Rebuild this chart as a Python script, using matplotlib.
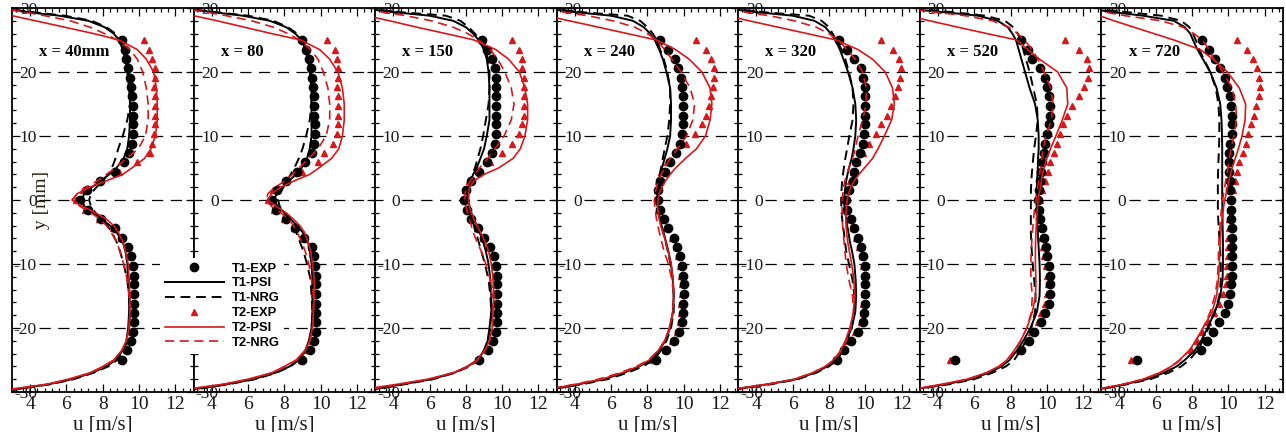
import matplotlib
matplotlib.use('Agg')
import matplotlib.pyplot as plt
from matplotlib.ticker import MultipleLocator
from matplotlib.transforms import blended_transform_factory

plt.rcParams['font.family'] = ['Liberation Serif', 'DejaVu Serif']
plt.rcParams['axes.unicode_minus'] = False

RED = '#d7191c'

# stations (one panel each)
STATIONS = ['x = 40mm', 'x = 80', 'x = 150', 'x = 240', 'x = 320', 'x = 520', 'x = 720']

# measurement positions [mm]
Y_EXP = [25.0, 23.5, 22.1, 20.6, 19.1, 17.6, 16.2, 14.7, 13.2, 11.8, 10.3, 8.8, 7.4, 5.9, 4.4, 2.9, 1.5,
         0.0, -1.5, -2.9, -4.4, -5.9, -7.4, -8.8, -10.3, -11.8, -13.2, -14.7, -16.2, -17.6, -19.1, -20.6,
         -22.1, -23.5, -25.0]

# simulation output positions [mm]
Y_SIM = [29.7, 29.3, 28.8, 28.0, 27.0, 26.0, 25.0, 23.5, 22.0, 20.0, 17.5, 15.0, 12.5, 10.0, 8.0, 6.5,
         5.0, 4.0, 3.0, 2.0, 1.0, 0.0, -1.0, -2.0, -3.0, -4.0, -5.0, -6.5, -8.0, -10.0, -12.5, -15.0,
         -17.5, -20.0, -22.0, -23.5, -25.0, -26.0, -27.0, -28.0, -28.8, -29.3, -29.7]

# u [m/s], case T1, measured
T1_EXP = [
    [9.05, 9.2, 9.3, 9.4, 9.5, 9.55, 9.6, 9.65, 9.65, 9.65, 9.65, 9.6, 9.45, 9.15, 8.65, 7.85, 7.15,
     6.75, 7.2, 7.9, 8.65, 9.05, 9.4, 9.55, 9.65, 9.7, 9.7, 9.7, 9.7, 9.7, 9.7, 9.65, 9.55, 9.35, 9.05],
    [9.0, 9.2, 9.35, 9.45, 9.55, 9.6, 9.65, 9.65, 9.65, 9.7, 9.7, 9.65, 9.5, 9.15, 8.7, 8.1, 7.6,
     7.3, 7.55, 8.1, 8.6, 9.1, 9.5, 9.65, 9.7, 9.75, 9.75, 9.75, 9.75, 9.75, 9.75, 9.75, 9.65, 9.4, 9.0],
    [8.9, 9.15, 9.45, 9.6, 9.65, 9.65, 9.65, 9.65, 9.65, 9.65, 9.65, 9.6, 9.45, 9.15, 8.75, 8.3, 8.0,
     7.9, 8.05, 8.3, 8.65, 9.0, 9.35, 9.55, 9.65, 9.7, 9.7, 9.7, 9.7, 9.7, 9.7, 9.65, 9.5, 9.2, 8.75],
    [8.7, 9.15, 9.5, 9.7, 9.85, 9.9, 9.95, 9.95, 9.95, 9.95, 9.9, 9.8, 9.6, 9.25, 8.95, 8.7, 8.6,
     8.6, 8.7, 8.9, 9.15, 9.45, 9.65, 9.8, 9.9, 9.95, 10.0, 10.0, 9.95, 9.95, 9.9, 9.75, 9.45, 9.05, 8.45],
    [8.55, 9.0, 9.4, 9.75, 9.9, 10.0, 10.0, 10.0, 10.0, 10.0, 9.95, 9.85, 9.7, 9.5, 9.4, 9.3, 9.1,
     8.95, 9.0, 9.2, 9.4, 9.6, 9.75, 9.9, 10.0, 10.0, 10.0, 10.0, 10.0, 9.95, 9.9, 9.6, 9.2, 8.85, 8.45],
    [8.55, 8.95, 9.2, 9.6, 9.9, 10.0, 10.1, 10.15, 10.15, 10.1, 10.0, 9.9, 9.85, 9.75, 9.7, 9.6, 9.55,
     9.5, 9.55, 9.65, 9.75, 9.85, 9.95, 10.0, 10.1, 10.15, 10.2, 10.2, 10.1, 9.9, 9.7, 9.3, 9.0, 8.6, 4.95],
    [8.55, 8.95, 9.25, 9.55, 9.8, 9.95, 10.1, 10.15, 10.2, 10.2, 10.2, 10.1, 10.05, 10.05, 10.05, 10.1, 10.1,
     10.15, 10.15, 10.15, 10.2, 10.2, 10.2, 10.2, 10.2, 10.2, 10.15, 10.1, 10.0, 9.8, 9.5, 9.15, 8.8, 8.5, 4.95],
]

# u [m/s], case T2, measured
T2_EXP = [
    [10.25, 10.55, 10.7, 10.85, 10.85, 10.8, 10.85, 10.85, 10.85, 10.85, 10.8, 10.7, 10.6, 9.9, 8.9, 7.8, 6.9,
     6.5, 7.0, 7.8, 8.55, 9.0, 9.35, 9.55, 9.6, 9.6, 9.6, 9.6, 9.6, 9.6, 9.6, 9.6, 9.5, 9.3, 9.0],
    [10.35, 10.8, 10.9, 10.95, 10.95, 10.9, 10.95, 10.95, 10.95, 10.95, 10.9, 10.7, 10.2, 9.85, 8.95, 8.1, 7.4,
     7.1, 7.45, 8.0, 8.55, 9.05, 9.45, 9.6, 9.65, 9.65, 9.65, 9.65, 9.65, 9.65, 9.65, 9.65, 9.55, 9.3, 8.9],
    [10.55, 10.95, 11.1, 11.1, 11.2, 11.2, 11.2, 11.2, 11.2, 11.1, 10.9, 10.55, 10.0, 9.35, 8.7, 8.15, 7.95,
     7.95, 8.05, 8.3, 8.6, 8.95, 9.3, 9.5, 9.6, 9.6, 9.6, 9.6, 9.6, 9.6, 9.6, 9.6, 9.45, 9.15, 8.7],
    [10.7, 11.25, 11.5, 11.65, 11.65, 11.6, 11.5, 11.4, 11.25, 11.0, 10.6, 10.15, 9.55, 9.1, 8.75, 8.6, 8.5,
     8.5, 8.6, 8.8, 9.05, 9.35, 9.55, 9.7, 9.8, 9.85, 9.9, 9.9, 9.85, 9.85, 9.8, 9.65, 9.35, 8.95, 8.3],
    [10.85, 11.5, 11.85, 11.95, 11.9, 11.8, 11.65, 11.4, 11.2, 10.85, 10.6, 10.2, 9.85, 9.55, 9.3, 9.15, 9.0,
     8.9, 8.95, 9.1, 9.3, 9.5, 9.65, 9.8, 9.9, 9.95, 9.95, 9.95, 9.9, 9.85, 9.75, 9.45, 9.05, 8.7, 8.3],
    [11.0, 11.75, 12.2, 12.35, 12.25, 12.05, 11.75, 11.4, 11.1, 10.9, 10.75, 10.55, 10.4, 10.2, 10.05, 9.9, 9.75,
     9.65, 9.6, 9.6, 9.65, 9.7, 9.8, 9.85, 9.95, 10.0, 10.05, 10.0, 9.9, 9.7, 9.5, 9.15, 8.85, 8.45, 4.65],
    [10.5, 11.0, 11.35, 11.55, 11.7, 11.75, 11.7, 11.5, 11.4, 11.25, 11.1, 10.95, 10.8, 10.6, 10.5, 10.35, 10.25,
     10.15, 10.1, 10.05, 10.05, 10.0, 10.0, 10.0, 9.95, 9.9, 9.85, 9.7, 9.5, 9.2, 8.9, 8.55, 8.25, 7.95, 4.65],
]

# u [m/s], simulations
T1_PSI = [
    [3.0, 4.0, 5.6, 7.2, 8.1, 8.6, 8.9, 9.1, 9.25, 9.35, 9.45, 9.5, 9.5, 9.45, 9.35, 9.15, 8.75, 8.35, 7.9, 7.4, 7.0,
     6.8, 7.0, 7.45, 7.95, 8.4, 8.75, 9.1, 9.25, 9.35, 9.4, 9.45, 9.45, 9.4, 9.3, 9.1, 8.7, 8.2, 7.4, 6.3, 5.0, 3.8, 3.0],
    [3.0, 4.2, 5.7, 7.2, 8.1, 8.6, 8.95, 9.15, 9.3, 9.4, 9.5, 9.5, 9.5, 9.5, 9.4, 9.25, 8.95, 8.65, 8.25, 7.9, 7.6,
     7.4, 7.65, 8.0, 8.35, 8.7, 9.0, 9.3, 9.4, 9.5, 9.55, 9.55, 9.55, 9.5, 9.35, 9.15, 8.75, 8.3, 7.5, 6.3, 4.8, 3.6, 2.8],
    [3.0, 4.2, 6.0, 7.3, 8.0, 8.4, 8.7, 9.0, 9.15, 9.25, 9.3, 9.3, 9.3, 9.15, 9.0, 8.8, 8.6, 8.4, 8.28, 8.18, 8.13,
     8.13, 8.2, 8.3, 8.45, 8.6, 8.75, 8.95, 9.1, 9.25, 9.35, 9.4, 9.4, 9.3, 9.2, 9.0, 8.65, 8.1, 7.35, 6.1, 4.5, 3.5, 2.7],
    [3.0, 4.2, 6.0, 7.2, 7.8, 8.15, 8.4, 8.65, 8.85, 9.05, 9.25, 9.3, 9.3, 9.25, 9.1, 8.95, 8.8, 8.7, 8.62, 8.57, 8.55,
     8.55, 8.57, 8.62, 8.7, 8.78, 8.88, 9.02, 9.15, 9.3, 9.4, 9.45, 9.4, 9.25, 8.98, 8.65, 8.2, 7.55, 6.7, 5.6, 4.2, 3.2, 2.4],
    [3.0, 4.2, 6.0, 7.2, 7.8, 8.1, 8.35, 8.6, 8.8, 9.05, 9.3, 9.45, 9.5, 9.45, 9.35, 9.25, 9.1, 9.02, 8.95, 8.9, 8.86,
     8.84, 8.85, 8.9, 8.95, 9.0, 9.07, 9.15, 9.27, 9.4, 9.47, 9.5, 9.45, 9.25, 8.95, 8.7, 8.3, 7.9, 7.2, 6.2, 4.6, 3.4, 2.5],
    [3.0, 4.5, 6.2, 7.3, 7.85, 8.1, 8.3, 8.45, 8.6, 8.8, 9.05, 9.35, 9.5, 9.55, 9.55, 9.52, 9.5, 9.48, 9.46, 9.45, 9.44,
     9.43, 9.44, 9.45, 9.46, 9.48, 9.5, 9.53, 9.56, 9.6, 9.62, 9.6, 9.45, 9.1, 8.7, 8.35, 7.95, 7.5, 6.8, 5.8, 4.4, 3.3, 2.5],
    [2.8, 3.8, 5.3, 7.0, 7.6, 7.9, 8.05, 8.3, 8.6, 9.0, 9.35, 9.55, 9.62, 9.65, 9.66, 9.66, 9.66, 9.66, 9.66, 9.66, 9.66,
     9.66, 9.67, 9.67, 9.68, 9.68, 9.69, 9.7, 9.7, 9.7, 9.68, 9.55, 9.25, 8.85, 8.5, 8.15, 7.6, 7.15, 6.45, 5.5, 4.3, 3.4, 2.6],
]

T1_NRG = [
    [3.2, 4.3, 5.9, 7.4, 8.2, 8.7, 8.95, 9.2, 9.35, 9.45, 9.5, 9.5, 9.35, 9.1, 8.85, 8.7, 8.5, 8.3, 8.0, 7.65, 7.35,
     7.25, 7.35, 7.6, 7.95, 8.25, 8.5, 8.75, 8.95, 9.15, 9.35, 9.45, 9.5, 9.45, 9.35, 9.15, 8.8, 8.3, 7.5, 6.4, 5.1, 3.9, 3.0],
    [3.2, 4.4, 6.0, 7.4, 8.2, 8.7, 9.0, 9.25, 9.4, 9.45, 9.5, 9.5, 9.4, 9.2, 9.0, 8.8, 8.55, 8.35, 8.15, 7.95, 7.75,
     7.65, 7.75, 7.95, 8.2, 8.45, 8.65, 8.85, 9.05, 9.25, 9.45, 9.5, 9.55, 9.5, 9.4, 9.2, 8.8, 8.35, 7.55, 6.4, 4.9, 3.7, 2.9],
    [3.3, 4.6, 6.9, 7.7, 8.15, 8.5, 8.75, 9.1, 9.2, 9.3, 9.3, 9.25, 9.1, 8.95, 8.8, 8.65, 8.5, 8.35, 8.25, 8.15, 8.1,
     8.1, 8.15, 8.25, 8.35, 8.45, 8.55, 8.7, 8.85, 9.05, 9.25, 9.35, 9.4, 9.35, 9.2, 9.0, 8.7, 8.2, 7.4, 6.2, 4.6, 3.6, 2.8],
    [3.3, 4.6, 6.9, 7.6, 8.0, 8.3, 8.5, 8.7, 8.9, 9.1, 9.25, 9.25, 9.2, 9.1, 8.95, 8.85, 8.75, 8.68, 8.6, 8.55, 8.52,
     8.52, 8.55, 8.6, 8.68, 8.76, 8.86, 9.0, 9.12, 9.27, 9.4, 9.45, 9.45, 9.3, 9.05, 8.75, 8.35, 7.75, 6.9, 5.8, 4.4, 3.3, 2.5],
    [3.3, 4.6, 6.9, 7.6, 8.0, 8.2, 8.4, 8.7, 8.9, 9.1, 9.3, 9.35, 9.3, 9.12, 9.0, 8.9, 8.82, 8.77, 8.73, 8.7, 8.68,
     8.67, 8.68, 8.7, 8.73, 8.77, 8.82, 8.88, 8.95, 9.1, 9.3, 9.4, 9.4, 9.25, 9.0, 8.78, 8.45, 8.0, 7.3, 6.3, 4.8, 3.6, 2.6],
    [3.5, 5.0, 6.6, 7.7, 8.15, 8.4, 8.55, 8.7, 8.85, 9.05, 9.25, 9.45, 9.5, 9.4, 9.3, 9.25, 9.2, 9.17, 9.15, 9.13, 9.12,
     9.12, 9.12, 9.12, 9.12, 9.12, 9.12, 9.14, 9.17, 9.22, 9.3, 9.38, 9.35, 9.15, 8.85, 8.55, 8.2, 7.75, 7.0, 6.0, 4.6, 3.4, 2.6],
    [3.3, 4.6, 6.3, 7.4, 7.85, 8.05, 8.2, 8.4, 8.65, 9.0, 9.3, 9.45, 9.5, 9.5, 9.48, 9.46, 9.44, 9.43, 9.42, 9.42, 9.42,
     9.42, 9.42, 9.43, 9.44, 9.46, 9.48, 9.52, 9.55, 9.58, 9.58, 9.5, 9.25, 8.9, 8.6, 8.3, 7.85, 7.4, 6.7, 5.7, 4.4, 3.4, 2.6],
]

T2_PSI = [
    [1.5, 2.2, 3.0, 4.3, 5.9, 7.5, 8.9, 9.9, 10.4, 10.8, 10.95, 11.0, 11.0, 10.9, 10.65, 10.3, 9.6, 9.1, 8.2, 7.3, 6.6,
     6.3, 6.9, 7.6, 8.2, 8.6, 8.85, 9.1, 9.25, 9.4, 9.45, 9.5, 9.5, 9.45, 9.3, 9.05, 8.6, 8.0, 7.3, 6.1, 4.9, 3.6, 2.5],
    [1.5, 2.2, 3.0, 4.3, 5.8, 7.3, 8.9, 9.95, 10.5, 10.95, 11.2, 11.3, 11.3, 11.2, 11.0, 10.6, 9.9, 9.4, 8.55, 7.8, 7.3,
     7.1, 7.55, 8.1, 8.5, 8.85, 9.1, 9.3, 9.45, 9.55, 9.65, 9.65, 9.6, 9.55, 9.4, 9.15, 8.65, 8.0, 7.3, 6.0, 4.6, 3.3, 2.3],
    [1.1, 1.75, 2.5, 3.8, 5.3, 6.9, 8.45, 9.65, 10.35, 10.95, 11.25, 11.4, 11.4, 11.25, 11.0, 10.6, 9.8, 9.0, 8.45, 8.2, 8.15,
     8.15, 8.2, 8.3, 8.45, 8.6, 8.8, 9.05, 9.25, 9.4, 9.5, 9.55, 9.5, 9.45, 9.3, 9.05, 8.6, 8.1, 7.3, 5.9, 4.2, 3.0, 2.2],
    [1.0, 1.7, 2.4, 3.7, 5.3, 6.9, 8.5, 9.55, 10.3, 11.0, 11.45, 11.55, 11.45, 11.2, 10.7, 10.1, 9.55, 9.25, 9.0, 8.8, 8.65,
     8.58, 8.56, 8.6, 8.65, 8.73, 8.85, 9.0, 9.15, 9.3, 9.42, 9.45, 9.4, 9.2, 8.95, 8.6, 8.1, 7.5, 6.6, 5.5, 4.1, 3.1, 2.3],
    [0.9, 1.6, 2.4, 3.6, 5.2, 6.8, 8.4, 9.6, 10.4, 11.1, 11.5, 11.6, 11.45, 11.05, 10.7, 10.4, 9.95, 9.65, 9.4, 9.2, 9.08,
     9.0, 8.96, 8.94, 8.93, 8.94, 8.97, 9.03, 9.12, 9.25, 9.37, 9.42, 9.35, 9.15, 8.9, 8.65, 8.25, 7.8, 7.1, 6.1, 4.6, 3.4, 2.5],
    [1.0, 1.6, 2.35, 3.55, 5.1, 6.7, 8.35, 8.95, 9.6, 10.6, 11.1, 11.15, 10.85, 10.5, 10.2, 10.0, 9.85, 9.75, 9.7, 9.65, 9.58,
     9.52, 9.48, 9.46, 9.44, 9.42, 9.4, 9.38, 9.37, 9.37, 9.4, 9.38, 9.2, 8.9, 8.55, 8.2, 7.8, 7.35, 6.65, 5.6, 4.2, 3.2, 2.4],
    [1.9, 2.4, 2.9, 3.7, 4.8, 5.9, 7.0, 8.45, 9.15, 9.95, 10.6, 10.95, 10.92, 10.75, 10.55, 10.38, 10.2, 10.12, 10.03, 9.95, 9.88,
     9.8, 9.74, 9.7, 9.65, 9.62, 9.58, 9.55, 9.52, 9.5, 9.45, 9.35, 9.1, 8.6, 8.2, 7.85, 7.3, 6.85, 6.2, 5.3, 4.2, 3.3, 2.5],
]

T2_NRG = [
    [3.0, 3.8, 4.8, 6.2, 7.3, 8.1, 8.8, 9.5, 9.9, 10.2, 10.4, 10.5, 10.5, 10.35, 9.95, 9.3, 8.7, 8.2, 7.7, 7.1, 6.6,
     6.35, 6.75, 7.35, 7.85, 8.2, 8.45, 8.75, 8.95, 9.15, 9.35, 9.45, 9.5, 9.45, 9.3, 9.05, 8.65, 8.1, 7.35, 6.2, 5.0, 3.8, 2.8],
    [3.0, 3.8, 4.8, 6.2, 7.4, 8.2, 8.85, 9.45, 9.85, 10.15, 10.4, 10.5, 10.5, 10.3, 9.85, 9.35, 8.8, 8.45, 8.05, 7.5, 7.1,
     7.0, 7.3, 7.8, 8.25, 8.5, 8.7, 8.95, 9.15, 9.35, 9.5, 9.6, 9.6, 9.55, 9.4, 9.15, 8.7, 8.1, 7.35, 6.1, 4.7, 3.4, 2.5],
    [2.5, 3.5, 4.7, 6.1, 7.3, 8.1, 8.7, 9.35, 9.75, 10.15, 10.5, 10.65, 10.5, 10.1, 9.6, 9.2, 8.75, 8.5, 8.25, 8.05, 7.95,
     7.95, 8.0, 8.1, 8.2, 8.3, 8.4, 8.6, 8.85, 9.1, 9.35, 9.45, 9.5, 9.45, 9.3, 9.05, 8.65, 8.15, 7.3, 6.0, 4.4, 3.3, 2.4],
    [2.5, 3.5, 4.7, 6.1, 7.3, 8.0, 8.5, 8.95, 9.35, 9.85, 10.35, 10.6, 10.5, 10.15, 9.65, 9.25, 8.95, 8.75, 8.6, 8.5, 8.42,
     8.4, 8.4, 8.45, 8.5, 8.57, 8.65, 8.78, 8.92, 9.15, 9.35, 9.45, 9.4, 9.25, 8.95, 8.6, 8.05, 7.4, 6.5, 5.3, 4.0, 3.0, 2.2],
    [2.5, 3.5, 4.7, 6.1, 7.3, 8.0, 8.5, 9.0, 9.45, 9.85, 10.05, 10.05, 9.85, 9.6, 9.45, 9.3, 9.1, 8.97, 8.88, 8.8, 8.76,
     8.73, 8.72, 8.72, 8.73, 8.75, 8.78, 8.83, 8.88, 8.95, 9.1, 9.3, 9.35, 9.2, 8.95, 8.7, 8.3, 7.8, 7.1, 6.1, 4.6, 3.4, 2.5],
    [2.8, 4.0, 5.5, 7.0, 7.9, 8.4, 8.75, 9.2, 9.5, 9.85, 10.2, 10.35, 10.25, 9.95, 9.8, 9.72, 9.65, 9.6, 9.55, 9.5, 9.45,
     9.4, 9.35, 9.3, 9.27, 9.24, 9.2, 9.17, 9.14, 9.12, 9.12, 9.2, 9.15, 8.9, 8.55, 8.25, 7.85, 7.4, 6.7, 5.7, 4.3, 3.2, 2.4],
    [2.5, 3.3, 4.3, 6.3, 7.5, 8.1, 8.55, 8.95, 9.2, 9.7, 10.2, 10.4, 10.45, 10.3, 10.15, 10.05, 9.98, 9.92, 9.85, 9.8, 9.74,
     9.68, 9.64, 9.6, 9.57, 9.54, 9.51, 9.48, 9.46, 9.44, 9.4, 9.25, 9.0, 8.6, 8.2, 7.85, 7.35, 6.9, 6.25, 5.35, 4.2, 3.3, 2.5],
]

W, H = 1286, 432
fig = plt.figure(figsize=(W / 100, H / 100), dpi=100)

panel_w = 181.55
handles = None
for k, station in enumerate(STATIONS):
    ax = fig.add_axes([(12 + k * panel_w) / W, 40 / H, panel_w / W, 384 / H])

    # dashed horizontal reference lines
    for yv in (-20, -10, 0, 10, 20):
        ax.axhline(yv, xmin=0.15, color='black', lw=0.9, ls=(0, (9, 6)), zorder=1)

    h4, = ax.plot(T2_EXP[k], Y_EXP, ls='none', marker='^', ms=4.8, color=RED, mec=RED, zorder=2)
    h1, = ax.plot(T1_EXP[k], Y_EXP, ls='none', marker='o', ms=6, color='black', zorder=3)
    h2, = ax.plot(T1_PSI[k], Y_SIM, color='black', lw=1.4, zorder=4)
    h3, = ax.plot(T1_NRG[k], Y_SIM, color='black', lw=1.4, ls=(0, (5, 3)), zorder=4)
    h5, = ax.plot(T2_PSI[k], Y_SIM, color=RED, lw=1.2, zorder=5)
    h6, = ax.plot(T2_NRG[k], Y_SIM, color=RED, lw=1.2, ls=(0, (5.5, 3.3)), zorder=5)
    if handles is None:
        handles = [h1, h2, h3, h4, h5, h6]

    ax.set_xlim(3, 13)
    ax.set_ylim(-30, 30)
    ax.xaxis.set_major_locator(MultipleLocator(2))
    ax.xaxis.set_minor_locator(MultipleLocator(0.4))
    ax.yaxis.set_major_locator(MultipleLocator(10))
    ax.yaxis.set_minor_locator(MultipleLocator(2))
    ax.tick_params(which='both', direction='in', top=True, right=True, width=0.9)
    ax.tick_params(which='major', length=6)
    ax.tick_params(which='minor', length=3.2)
    ax.tick_params(axis='x', labelsize=14, pad=3, labelcolor='#1a1a1a')
    ax.tick_params(axis='y', labelsize=12.5, pad=-18, labelcolor='#1a1a1a')
    for sp in ax.spines.values():
        sp.set_linewidth(1.3)

    trans = blended_transform_factory(ax.transAxes, ax.transData)
    ax.text(0.15, 22.5, station, transform=trans, fontsize=12, fontweight='bold',
            ha='left', va='baseline')
    ax.text(0.5, -0.097, 'u [m/s]', transform=ax.transAxes, fontsize=15,
            ha='center', va='baseline', color='#1a1a1a')
    if k == 0:
        ax.text(0.162, 0.5, 'y [mm]', transform=ax.transAxes, fontsize=14, rotation=90,
                ha='center', va='center', color='#2a2018')

fig.legend(handles, ['T1-EXP', 'T1-PSI', 'T1-NRG', 'T2-EXP', 'T2-PSI', 'T2-NRG'],
           loc='upper left', bbox_to_anchor=(160 / W, 1 - 258 / H), frameon=True,
           facecolor='white', edgecolor='none', framealpha=1, fancybox=False,
           prop=dict(family='Liberation Sans', weight='bold', size=9.3),
           handlelength=4.6, handletextpad=0.6, labelspacing=0.22, borderpad=0.35,
           borderaxespad=0, numpoints=1)

fig.savefig('out.png', dpi=100)
